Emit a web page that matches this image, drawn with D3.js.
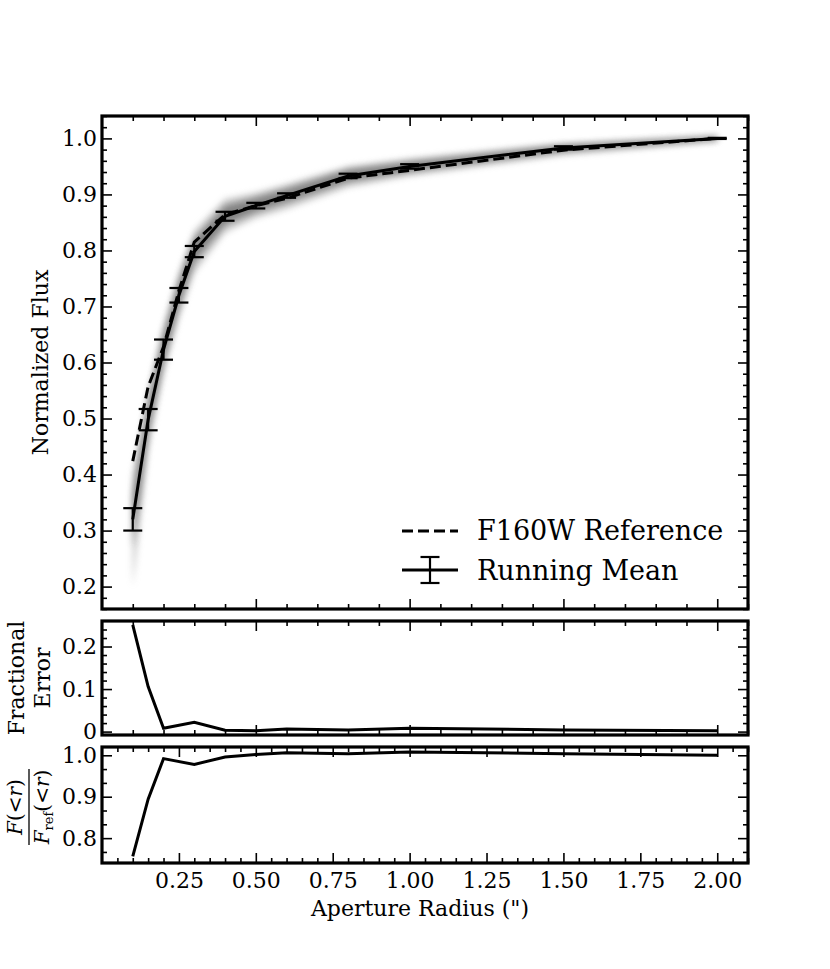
<!DOCTYPE html>
<html>
<head>
<meta charset="utf-8">
<script src="https://cdn.jsdelivr.net/npm/d3@7"></script>
<style>
	body { margin: 0; background: #fff; }
	text { font-family: "DejaVu Serif", serif; fill: #000; }
</style>
</head>
<body>
<svg id="chart" width="830" height="969"></svg>
<script>
// aperture radii (arcsec) of the measured points
const radius = [0.1, 0.15, 0.2, 0.25, 0.3, 0.4, 0.5, 0.6, 0.8, 1.0, 1.5, 2.0];
// running mean curve of growth and its error bars
const meanFlux = [0.320, 0.498, 0.623, 0.720, 0.798, 0.861, 0.880, 0.898, 0.933, 0.950, 0.983, 1.000];
const meanErr = [0.020, 0.019, 0.018, 0.013, 0.010, 0.008, 0.005, 0.004, 0.004, 0.004, 0.003, 0.001];
// F160W reference curve of growth
const refFlux = [0.424, 0.557, 0.628, 0.728, 0.815, 0.864, 0.880, 0.893, 0.929, 0.943, 0.979, 1.000];
// spread of the individual curves (grey cloud), outer and inner envelopes
const cloudLoOuter = [0.200, 0.445, 0.580, 0.680, 0.760, 0.832, 0.858, 0.874, 0.913, 0.933, 0.970, 0.994];
const cloudHiOuter = [0.400, 0.548, 0.665, 0.760, 0.835, 0.892, 0.903, 0.918, 0.950, 0.964, 0.991, 1.005];
const cloudLoInner = [0.270, 0.472, 0.600, 0.700, 0.780, 0.846, 0.869, 0.886, 0.923, 0.941, 0.977, 0.997];
const cloudHiInner = [0.365, 0.528, 0.650, 0.745, 0.820, 0.880, 0.894, 0.910, 0.944, 0.958, 0.988, 1.003];

// lower panels
const fracRadius = [0.1, 0.15, 0.2, 0.3, 0.4, 0.5, 0.6, 0.8, 1.0, 1.5, 2.0];
const fracError = [0.251, 0.106, 0.008, 0.022, 0.003, 0.002, 0.006, 0.004, 0.008, 0.004, 0.002];
const fluxRatio = [0.756, 0.894, 0.992, 0.978, 0.996, 1.002, 1.006, 1.004, 1.008, 1.004, 1.000];

// tick labels
const xTicks = [0.25, 0.5, 0.75, 1.0, 1.25, 1.5, 1.75, 2.0];
const fluxTicks = [0.2, 0.3, 0.4, 0.5, 0.6, 0.7, 0.8, 0.9, 1.0];
const fracTicks = [0, 0.1, 0.2];
const ratioTicks = [0.8, 0.9, 1.0];

const FONT = '22px';

const svg = d3.select('#chart');
svg.append('rect').attr('width', 830).attr('height', 969).attr('fill', '#fff');

const L = 102, R = 748;
const panels = {
	flux: {top: 116, bottom: 609},
	frac: {top: 621, bottom: 735},
	ratio: {top: 747, bottom: 863}
};

const x = d3.scaleLinear().domain([0, 2.1]).range([L, R]);
const yFlux = d3.scaleLinear().domain([0.16, 1.04]).range([panels.flux.bottom, panels.flux.top]);
const yFrac = d3.scaleLinear().domain([-0.008, 0.26]).range([panels.frac.bottom, panels.frac.top]);
const yRatio = d3.scaleLinear().domain([0.74, 1.02]).range([panels.ratio.bottom, panels.ratio.top]);

const fmt1 = d3.format('.1f');

// blur for the cloud of individual curves
const defs = svg.append('defs');
defs.append('filter')
	.attr('id', 'soft')
	.attr('x', '-20%').attr('y', '-20%')
	.attr('width', '140%').attr('height', '140%')
	.append('feGaussianBlur')
	.attr('stdDeviation', 3);

defs.append('clipPath').attr('id', 'clipFlux')
	.append('rect')
	.attr('x', L).attr('y', panels.flux.top)
	.attr('width', R - L).attr('height', panels.flux.bottom - panels.flux.top);

// inward ticks on all four sides of a panel
function ticks(p, y, xMinor, xMajor, yMinor, yMajor) {
	const g = svg.append('g').attr('class', 'ticks');
	const sets = [
		[d3.axisBottom(x), 'translate(0,' + p.bottom + ')', xMinor, 5],
		[d3.axisBottom(x), 'translate(0,' + p.bottom + ')', xMajor, 10],
		[d3.axisTop(x), 'translate(0,' + p.top + ')', xMinor, 5],
		[d3.axisTop(x), 'translate(0,' + p.top + ')', xMajor, 10],
		[d3.axisLeft(y), 'translate(' + L + ',0)', yMinor, 5],
		[d3.axisLeft(y), 'translate(' + L + ',0)', yMajor, 10],
		[d3.axisRight(y), 'translate(' + R + ',0)', yMinor, 5],
		[d3.axisRight(y), 'translate(' + R + ',0)', yMajor, 10]
	];
	sets.forEach(function(s) {
		const a = g.append('g')
			.attr('transform', s[1])
			.call(s[0].tickValues(s[2]).tickSize(-s[3]).tickFormat(''));
		a.select('.domain').remove();
		a.selectAll('line').attr('stroke', '#000').attr('stroke-width', 1.6);
	});
}

function yLabels(y, values, format) {
	const a = svg.append('g')
		.attr('transform', 'translate(' + L + ',0)')
		.call(d3.axisLeft(y).tickValues(values).tickSize(0).tickPadding(5).tickFormat(format));
	a.select('.domain').remove();
	a.selectAll('text')
		.style('font-family', '"DejaVu Serif", serif')
		.style('font-size', FONT);
}

function frame(p) {
	svg.append('rect')
		.attr('x', L).attr('y', p.top)
		.attr('width', R - L).attr('height', p.bottom - p.top)
		.attr('fill', 'none')
		.attr('stroke', '#000')
		.attr('stroke-width', 3.2);
}

const tenths = d3.range(0, 2.11, 0.1).filter(v => Math.abs(v * 2 - Math.round(v * 2)) > 1e-6);
const halves = [0.5, 1.0, 1.5, 2.0];
const twentieths = d3.range(0, 2.11, 0.05).filter(v => Math.abs(v * 4 - Math.round(v * 4)) > 1e-6);

// ---------- top panel: curve of growth ----------
const gFlux = svg.append('g').attr('clip-path', 'url(#clipFlux)');

const cloudOuter = d3.area()
	.x((d, i) => x(radius[i]))
	.y0((d, i) => yFlux(cloudLoOuter[i]))
	.y1((d, i) => yFlux(cloudHiOuter[i]));
const cloudInner = d3.area()
	.x((d, i) => x(radius[i]))
	.y0((d, i) => yFlux(cloudLoInner[i]))
	.y1((d, i) => yFlux(cloudHiInner[i]));

gFlux.append('path')
	.attr('d', cloudOuter(radius))
	.attr('fill', '#a0a0a0')
	.attr('opacity', 0.55)
	.attr('filter', 'url(#soft)');
gFlux.append('path')
	.attr('d', cloudInner(radius))
	.attr('fill', '#6a6a6a')
	.attr('opacity', 0.75)
	.attr('filter', 'url(#soft)');

gFlux.append('path')
	.attr('d', d3.line().x((d, i) => x(radius[i])).y(d => yFlux(d))(refFlux))
	.attr('fill', 'none')
	.attr('stroke', '#000')
	.attr('stroke-width', 3)
	.attr('stroke-dasharray', '11,5');

gFlux.append('path')
	.attr('d', d3.line().x((d, i) => x(radius[i])).y(d => yFlux(d))(meanFlux))
	.attr('fill', 'none')
	.attr('stroke', '#000')
	.attr('stroke-width', 3);

const bars = gFlux.selectAll('.err_bar')
	.data(radius).enter()
	.append('g')
	.attr('class', 'err_bar')
	.attr('stroke', '#000')
	.attr('stroke-width', 2.2);
bars.append('line')
	.attr('x1', d => x(d)).attr('x2', d => x(d))
	.attr('y1', (d, i) => yFlux(meanFlux[i] - meanErr[i]))
	.attr('y2', (d, i) => yFlux(meanFlux[i] + meanErr[i]));
[-1, 1].forEach(function(sign) {
	bars.append('line')
		.attr('x1', d => x(d) - 9.5).attr('x2', d => x(d) + 9.5)
		.attr('y1', (d, i) => yFlux(meanFlux[i] + sign * meanErr[i]))
		.attr('y2', (d, i) => yFlux(meanFlux[i] + sign * meanErr[i]));
});

ticks(panels.flux, yFlux, tenths, halves,
	d3.range(0.16, 1.041, 0.02).filter(v => Math.abs(v * 10 - Math.round(v * 10)) > 1e-6),
	fluxTicks);
yLabels(yFlux, fluxTicks, fmt1);
frame(panels.flux);

// legend
const legend = svg.append('g').attr('class', 'legend');
legend.append('line')
	.attr('x1', 402).attr('x2', 458).attr('y1', 531).attr('y2', 531)
	.attr('stroke', '#000').attr('stroke-width', 3).attr('stroke-dasharray', '11,5');
legend.append('text').attr('x', 477).attr('y', 540).style('font-size', '27px').text('F160W Reference');
legend.append('line')
	.attr('x1', 402).attr('x2', 458).attr('y1', 570).attr('y2', 570)
	.attr('stroke', '#000').attr('stroke-width', 3);
legend.append('line')
	.attr('x1', 430).attr('x2', 430).attr('y1', 557).attr('y2', 583)
	.attr('stroke', '#000').attr('stroke-width', 2.2);
[557, 583].forEach(function(yy) {
	legend.append('line')
		.attr('x1', 420.5).attr('x2', 439.5).attr('y1', yy).attr('y2', yy)
		.attr('stroke', '#000').attr('stroke-width', 2.2);
});
legend.append('text').attr('x', 477).attr('y', 580).style('font-size', '27px').text('Running Mean');

svg.append('text')
	.attr('transform', 'translate(48,' + (panels.flux.top + panels.flux.bottom) / 2 + ') rotate(-90)')
	.attr('text-anchor', 'middle')
	.style('font-size', FONT)
	.text('Normalized Flux');

// ---------- middle panel: fractional error ----------
svg.append('path')
	.attr('d', d3.line().x((d, i) => x(fracRadius[i])).y(d => yFrac(d))(fracError))
	.attr('fill', 'none')
	.attr('stroke', '#000')
	.attr('stroke-width', 3);

ticks(panels.frac, yFrac, tenths, halves,
	d3.range(0, 0.26, 0.02).filter(v => Math.abs(v * 10 - Math.round(v * 10)) > 1e-6),
	fracTicks);
yLabels(yFrac, fracTicks, d => d === 0 ? '0' : fmt1(d));
frame(panels.frac);

const fracMid = (panels.frac.top + panels.frac.bottom) / 2;
svg.append('text')
	.attr('transform', 'translate(24,' + fracMid + ') rotate(-90)')
	.attr('text-anchor', 'middle')
	.style('font-size', FONT)
	.text('Fractional');
svg.append('text')
	.attr('transform', 'translate(50,' + fracMid + ') rotate(-90)')
	.attr('text-anchor', 'middle')
	.style('font-size', FONT)
	.text('Error');

// ---------- bottom panel: ratio to reference ----------
svg.append('path')
	.attr('d', d3.line().x((d, i) => x(fracRadius[i])).y(d => yRatio(d))(fluxRatio))
	.attr('fill', 'none')
	.attr('stroke', '#000')
	.attr('stroke-width', 3);

ticks(panels.ratio, yRatio, twentieths, xTicks,
	d3.range(0.7667, 1.02, 0.1 / 3).filter(v => Math.abs(v * 10 - Math.round(v * 10)) > 1e-3),
	ratioTicks);
yLabels(yRatio, ratioTicks, fmt1);
frame(panels.ratio);

const xa = svg.append('g')
	.attr('transform', 'translate(0,' + panels.ratio.bottom + ')')
	.call(d3.axisBottom(x).tickValues(xTicks).tickSize(0).tickPadding(9).tickFormat(d3.format('.2f')));
xa.select('.domain').remove();
xa.selectAll('text')
	.style('font-family', '"DejaVu Serif", serif')
	.style('font-size', FONT);

svg.append('text')
	.attr('x', (L + R) / 2 - 5)
	.attr('y', 916)
	.attr('text-anchor', 'middle')
	.style('font-size', FONT)
	.text('Aperture Radius (")');

// F(<r) / F_ref(<r) label
const ratioMid = (panels.ratio.top + panels.ratio.bottom) / 2;
const frac = svg.append('g')
	.attr('transform', 'translate(29,' + (ratioMid + 2) + ') rotate(-90)');
const num = frac.append('text')
	.attr('x', 0).attr('y', -7)
	.attr('text-anchor', 'middle')
	.style('font-size', '20px');
num.append('tspan').style('font-style', 'italic').text('F');
num.append('tspan').text('(<');
num.append('tspan').style('font-style', 'italic').text('r');
num.append('tspan').text(')');
frac.append('line')
	.attr('x1', -38).attr('x2', 38).attr('y1', 0).attr('y2', 0)
	.attr('stroke', '#000').attr('stroke-width', 1.3);
const den = frac.append('text')
	.attr('x', 0).attr('y', 20)
	.attr('text-anchor', 'middle')
	.style('font-size', '20px');
den.append('tspan').style('font-style', 'italic').text('F');
den.append('tspan').attr('dy', 4).style('font-size', '13px').text('ref');
den.append('tspan').attr('dy', -4).text('(<');
den.append('tspan').style('font-style', 'italic').text('r');
den.append('tspan').text(')');
</script>
</body>
</html>
